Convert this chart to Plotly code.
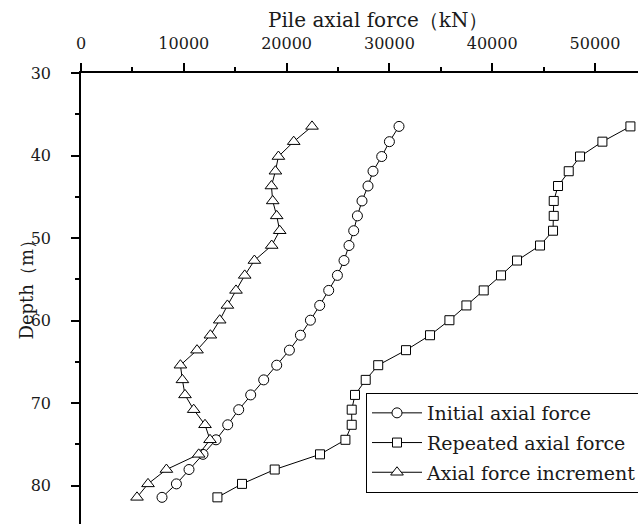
import plotly.graph_objects as go

# Depth of measuring points (m)
depth = [36.47, 38.32, 40.12, 41.90, 43.69, 45.50, 47.31, 49.11, 50.90, 52.72,
         54.52, 56.34, 58.16, 59.95, 61.77, 63.58, 65.40, 67.18, 69.00, 70.79,
         72.62, 74.44, 76.20, 78.04, 79.78, 81.41]

# Pile axial force (kN)
initial_force = [30935, 30001, 29252, 28406, 27919, 27336, 26888, 26528, 26071, 25585,
                 24943, 24096, 23221, 22316, 21343, 20273, 19038, 17773, 16508, 15341,
                 14271, 13133, 11868, 10506, 9281, 7880]
repeated_force = [53446, 50722, 48543, 47444, 46403, 45984, 45984, 45916, 44652, 42414,
                  40858, 39175, 37492, 35838, 33951, 31616, 28911, 27696, 26655, 26334,
                  26334, 25721, 23250, 18843, 15662, 13269]
force_increment = [22472, 20692, 19203, 18911, 18522, 18649, 19038, 19330, 18551, 16868,
                   15925, 15078, 14242, 13493, 12588, 11284, 9670, 9864, 10117, 10963,
                   12063, 12549, 11450, 8308, 6518, 5448]

series_names = ["Initial axial force", "Repeated axial force", "Axial force increment"]
x_ticks = [0, 10000, 20000, 30000, 40000, 50000]
y_ticks = [30, 40, 50, 60, 70, 80]

FONT = "DejaVu Serif"
TXT = "#1a1a1a"
W, H = 638, 524
ML, MT = 81, 73
plot_w = W - ML
plot_h = H - MT
x_max = plot_w / 102.8 * 10000
y_max = 30 + plot_h / 8.254

fig = go.Figure()
styles = [("circle", 10), ("square", 9), ("triangle-up", 11)]
for i, (name, xs, (sym, sz)) in enumerate(zip(series_names,
                                              [initial_force, repeated_force, force_increment],
                                              styles)):
    fig.add_trace(go.Scatter(
        x=xs, y=depth, name=name, mode="lines+markers",
        legendgroup=f"g{i}",
        line=dict(color="black", width=1),
        marker=dict(symbol=sym, size=sz, color="white",
                    line=dict(color="black", width=1)),
    ))

fig.update_layout(
    width=W, height=H,
    margin=dict(l=ML, r=0, t=MT, b=0, pad=0, autoexpand=False),
    paper_bgcolor="white", plot_bgcolor="white",
    font=dict(family=FONT, size=16, color=TXT),
    showlegend=True,
    legend=dict(
        x=(366 - ML) / plot_w, y=(H - 393) / plot_h,
        xanchor="left", yanchor="top",
        bgcolor="white", bordercolor="black", borderwidth=1,
        font=dict(family=FONT, size=19, color=TXT),
        itemwidth=50, tracegroupgap=2,
    ),
    xaxis=dict(
        side="top", range=[0, x_max], tickvals=x_ticks,
        ticktext=[str(v) for v in x_ticks],
        showline=True, linecolor="black", linewidth=1.5,
        ticks="outside", ticklen=8, tickwidth=1.5, tickcolor="black",
        ticklabelstandoff=8,
        minor=dict(dtick=5000, tick0=0, ticks="outside", ticklen=4,
                   tickwidth=1.5, tickcolor="black", showgrid=False),
        showgrid=False, zeroline=False,
        tickfont=dict(family=FONT, size=16, color=TXT),
    ),
    yaxis=dict(
        range=[y_max, 30], tickvals=y_ticks,
        showline=True, linecolor="black", linewidth=1.5,
        ticks="outside", ticklen=8, tickwidth=1.5, tickcolor="black",
        ticklabelstandoff=17,
        minor=dict(dtick=5, tick0=30, ticks="outside", ticklen=4,
                   tickwidth=1.5, tickcolor="black", showgrid=False),
        showgrid=False, zeroline=False,
        tickfont=dict(family=FONT, size=16, color=TXT),
    ),
    annotations=[
        dict(text="Pile axial force（kN）", xref="paper", yref="paper",
             x=(378 - ML) / plot_w, y=(H - 20) / plot_h,
             xanchor="center", yanchor="middle", showarrow=False,
             font=dict(family=FONT, size=20, color=TXT)),
        dict(text="Depth（m）", xref="paper", yref="paper",
             x=(26 - ML) / plot_w, y=(H - 285.5) / plot_h,
             xanchor="center", yanchor="middle", showarrow=False,
             textangle=-90,
             font=dict(family=FONT, size=18, color=TXT)),
    ],
)

fig.write_html("out.html")
